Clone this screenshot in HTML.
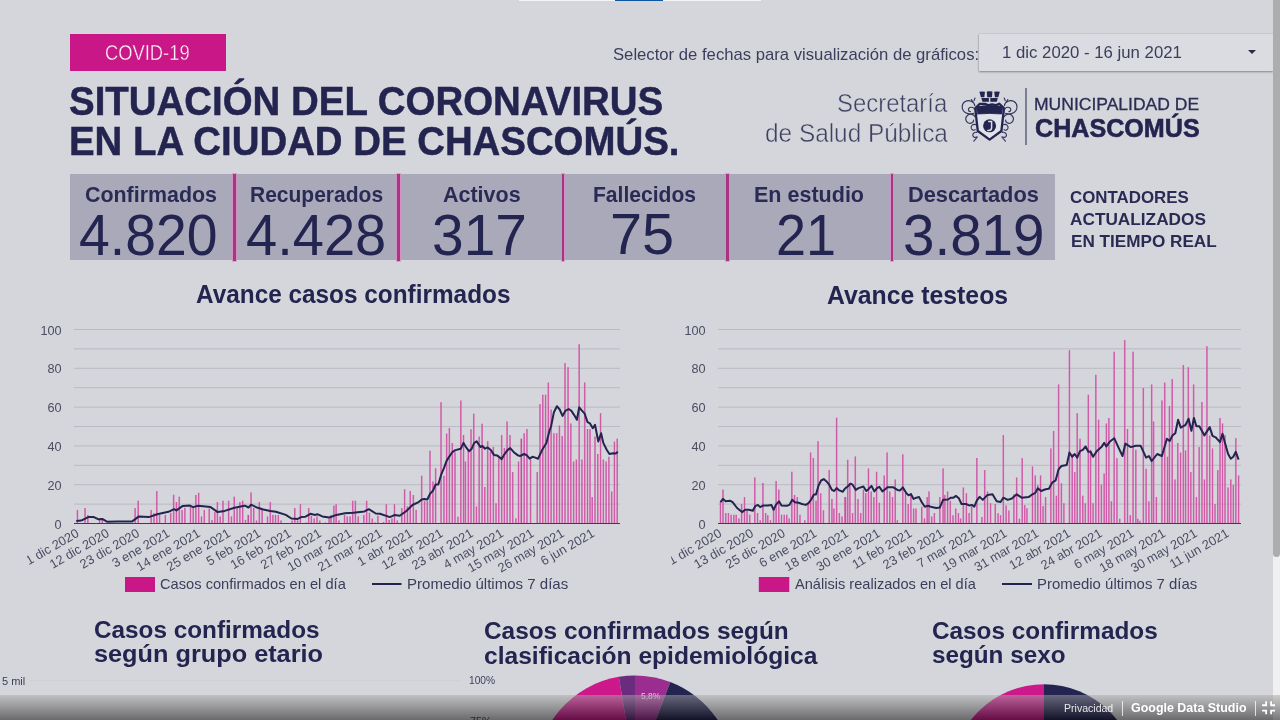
<!DOCTYPE html>
<html lang="es"><head><meta charset="utf-8"><title>Situación del coronavirus en la ciudad de Chascomús</title>
<style>
html,body{margin:0;padding:0;}
body{width:1280px;height:720px;overflow:hidden;background:#d5d6db;position:relative;font-family:"Liberation Sans", sans-serif;}
.t{position:absolute;white-space:nowrap;line-height:1;transform-origin:0 0;}
.abs{position:absolute;}
.sep{position:absolute;top:174px;height:86.5px;width:2.6px;background:#a93484;box-shadow:0 0 0 1px rgba(222,140,196,0.75);}
svg text{font-family:"Liberation Sans", sans-serif;}
</style></head><body>
<div class="abs" style="left:519px;top:0;width:242px;height:1.3px;background:#f4f4f6;"></div>
<div class="abs" style="left:615.3px;top:0;width:47.5px;height:1.4px;background:#0d56a0;"></div>
<div class="abs" style="left:70px;top:34px;width:156px;height:37px;background:#c91788;"></div>
<div class="abs" style="left:978.5px;top:33.5px;width:294.5px;height:37px;background:#dbdce1;box-shadow:0 1px 2px rgba(0,0,0,0.35),0 0 1px rgba(0,0,0,0.25);"></div>
<svg class="abs" style="left:1247px;top:49px" width="10" height="6" viewBox="0 0 10 6"><path d="M1 1h8L5 5z" fill="#2a2b45"/></svg>
<div class="abs" style="left:1025.3px;top:88px;width:1.6px;height:57px;background:#7d7e95;"></div>
<div class="abs" style="left:70px;top:173.6px;width:985.4px;height:86.2px;background:#a9a9b9;"></div>
<div class="sep" style="left:233.0px"></div><div class="sep" style="left:397.4px"></div><div class="sep" style="left:561.7px"></div><div class="sep" style="left:726.1px"></div><div class="sep" style="left:890.5px"></div>
<svg class="abs" style="left:0;top:0" width="1280" height="720" viewBox="0 0 1280 720">
<clipPath id="clip74"><rect x="27.2" y="520" width="620" height="80"/></clipPath>
<line x1="74" x2="620" y1="504.1" y2="504.1" stroke="#b9bac3" stroke-width="1"/>
<line x1="74" x2="620" y1="484.7" y2="484.7" stroke="#b9bac3" stroke-width="1"/>
<line x1="74" x2="620" y1="465.3" y2="465.3" stroke="#b9bac3" stroke-width="1"/>
<line x1="74" x2="620" y1="445.9" y2="445.9" stroke="#b9bac3" stroke-width="1"/>
<line x1="74" x2="620" y1="426.5" y2="426.5" stroke="#b9bac3" stroke-width="1"/>
<line x1="74" x2="620" y1="407.1" y2="407.1" stroke="#b9bac3" stroke-width="1"/>
<line x1="74" x2="620" y1="387.7" y2="387.7" stroke="#b9bac3" stroke-width="1"/>
<line x1="74" x2="620" y1="368.3" y2="368.3" stroke="#b9bac3" stroke-width="1"/>
<line x1="74" x2="620" y1="348.9" y2="348.9" stroke="#b9bac3" stroke-width="1"/>
<line x1="74" x2="620" y1="329.5" y2="329.5" stroke="#b9bac3" stroke-width="1"/>
<path d="M77.45 523.5V509.9M85.05 523.5V508.1M87.86 523.5V514.9M99.53 523.5V519.9M102.34 523.5V519.9M135.11 523.5V508.1M138.20 523.5V500.7M151.14 523.5V509.9M153.95 523.5V513.2M156.77 523.5V491.0M159.58 523.5V514.9M165.35 523.5V514.9M170.69 523.5V512.8M173.64 523.5V494.7M176.45 523.5V502.1M179.27 523.5V496.7M182.08 523.5V509.9M184.89 523.5V507.8M190.52 523.5V506.4M193.19 523.5V507.8M195.86 523.5V495.0M198.67 523.5V492.8M201.49 523.5V516.4M204.30 523.5V509.9M209.22 523.5V508.5M212.03 523.5V519.9M214.85 523.5V512.1M217.38 523.5V502.1M220.19 523.5V516.4M223.00 523.5V500.7M228.63 523.5V500.7M231.44 523.5V516.4M234.25 523.5V496.7M237.07 523.5V507.8M239.88 523.5V502.1M242.69 523.5V500.7M245.50 523.5V519.9M248.23 523.5V514.9M248.32 523.5V514.9M251.05 523.5V492.4M253.72 523.5V507.8M256.53 523.5V520.6M259.34 523.5V502.1M262.16 523.5V509.9M267.50 523.5V516.4M270.31 523.5V502.1M272.84 523.5V514.9M275.52 523.5V514.9M278.33 523.5V514.9M281.00 523.5V520.4M292.11 523.5V520.6M294.78 523.5V508.1M297.59 523.5V520.6M300.41 523.5V504.2M305.89 523.5V522.4M308.70 523.5V508.1M311.38 523.5V515.7M314.19 523.5V518.5M317.00 523.5V516.4M319.81 523.5V520.4M325.44 523.5V522.4M329.10 523.5V518.5M331.06 523.5V514.9M333.88 523.5V505.7M336.13 523.5V504.2M338.94 523.5V520.4M344.56 523.5V514.9M347.24 523.5V516.4M350.05 523.5V516.4M352.72 523.5V500.7M355.39 523.5V500.7M358.20 523.5V516.4M363.83 523.5V514.9M366.64 523.5V500.7M369.46 523.5V512.8M372.27 523.5V518.5M375.08 523.5V522.4M377.89 523.5V515.7M383.52 523.5V522.1M386.33 523.5V504.2M389.14 523.5V519.9M391.96 523.5V518.5M394.49 523.5V504.2M397.30 523.5V520.4M401.80 523.5V508.1M404.61 523.5V489.3M407.42 523.5V506.4M410.24 523.5V491.0M413.33 523.5V495.0M416.14 523.5V509.9M421.67 523.5V475.8M424.58 523.5V501.2M427.29 523.5V501.2M430.00 523.5V450.8M432.92 523.5V481.4M435.62 523.5V468.3M441.04 523.5V402.2M443.96 523.5V475.8M446.67 523.5V433.5M449.38 523.5V427.9M452.29 523.5V442.9M455.00 523.5V452.2M457.92 523.5V516.8M460.83 523.5V400.6M463.54 523.5V434.9M465.42 523.5V461.6M468.33 523.5V450.8M471.04 523.5V429.3M473.75 523.5V413.7M476.46 523.5V506.4M479.17 523.5V436.6M482.08 523.5V423.7M484.79 523.5V487.0M487.71 523.5V441.2M490.42 523.5V452.2M493.33 523.5V447.0M496.04 523.5V503.3M498.75 523.5V458.5M501.67 523.5V434.9M504.38 523.5V448.1M507.08 523.5V421.6M510.00 523.5V434.9M512.71 523.5V472.0M515.83 523.5V518.3M518.54 523.5V461.6M521.25 523.5V438.7M521.39 523.5V438.7M524.17 523.5V433.2M526.94 523.5V429.0M530.56 523.5V459.6M537.22 523.5V472.1M540.00 523.5V404.0M542.78 523.5V394.8M545.56 523.5V394.8M548.33 523.5V382.6M551.11 523.5V409.5M553.89 523.5V433.2M556.67 523.5V433.2M559.44 523.5V425.4M562.22 523.5V435.9M565.00 523.5V363.1M568.06 523.5V367.3M570.83 523.5V423.4M573.61 523.5V461.5M576.39 523.5V459.6M579.17 523.5V344.2M581.94 523.5V459.6M584.72 523.5V382.6M587.50 523.5V429.0M590.00 523.5V429.0M592.22 523.5V497.1M595.00 523.5V436.5M597.78 523.5V454.0M600.56 523.5V413.2M603.33 523.5V459.6M606.11 523.5V461.5M608.89 523.5V456.8M611.67 523.5V491.5M614.44 523.5V441.5M617.22 523.5V438.7" stroke="#e06fbd" stroke-opacity="0.95" stroke-width="1.55" fill="none"/>
<path d="M77.45 523.5V509.9M85.05 523.5V508.1M87.86 523.5V514.9M99.53 523.5V519.9M102.34 523.5V519.9M135.11 523.5V508.1M138.20 523.5V500.7M151.14 523.5V509.9M153.95 523.5V513.2M156.77 523.5V491.0M159.58 523.5V514.9M165.35 523.5V514.9M170.69 523.5V512.8M173.64 523.5V494.7M176.45 523.5V502.1M179.27 523.5V496.7M182.08 523.5V509.9M184.89 523.5V507.8M190.52 523.5V506.4M193.19 523.5V507.8M195.86 523.5V495.0M198.67 523.5V492.8M201.49 523.5V516.4M204.30 523.5V509.9M209.22 523.5V508.5M212.03 523.5V519.9M214.85 523.5V512.1M217.38 523.5V502.1M220.19 523.5V516.4M223.00 523.5V500.7M228.63 523.5V500.7M231.44 523.5V516.4M234.25 523.5V496.7M237.07 523.5V507.8M239.88 523.5V502.1M242.69 523.5V500.7M245.50 523.5V519.9M248.23 523.5V514.9M248.32 523.5V514.9M251.05 523.5V492.4M253.72 523.5V507.8M256.53 523.5V520.6M259.34 523.5V502.1M262.16 523.5V509.9M267.50 523.5V516.4M270.31 523.5V502.1M272.84 523.5V514.9M275.52 523.5V514.9M278.33 523.5V514.9M281.00 523.5V520.4M292.11 523.5V520.6M294.78 523.5V508.1M297.59 523.5V520.6M300.41 523.5V504.2M305.89 523.5V522.4M308.70 523.5V508.1M311.38 523.5V515.7M314.19 523.5V518.5M317.00 523.5V516.4M319.81 523.5V520.4M325.44 523.5V522.4M329.10 523.5V518.5M331.06 523.5V514.9M333.88 523.5V505.7M336.13 523.5V504.2M338.94 523.5V520.4M344.56 523.5V514.9M347.24 523.5V516.4M350.05 523.5V516.4M352.72 523.5V500.7M355.39 523.5V500.7M358.20 523.5V516.4M363.83 523.5V514.9M366.64 523.5V500.7M369.46 523.5V512.8M372.27 523.5V518.5M375.08 523.5V522.4M377.89 523.5V515.7M383.52 523.5V522.1M386.33 523.5V504.2M389.14 523.5V519.9M391.96 523.5V518.5M394.49 523.5V504.2M397.30 523.5V520.4M401.80 523.5V508.1M404.61 523.5V489.3M407.42 523.5V506.4M410.24 523.5V491.0M413.33 523.5V495.0M416.14 523.5V509.9M421.67 523.5V475.8M424.58 523.5V501.2M427.29 523.5V501.2M430.00 523.5V450.8M432.92 523.5V481.4M435.62 523.5V468.3M441.04 523.5V402.2M443.96 523.5V475.8M446.67 523.5V433.5M449.38 523.5V427.9M452.29 523.5V442.9M455.00 523.5V452.2M457.92 523.5V516.8M460.83 523.5V400.6M463.54 523.5V434.9M465.42 523.5V461.6M468.33 523.5V450.8M471.04 523.5V429.3M473.75 523.5V413.7M476.46 523.5V506.4M479.17 523.5V436.6M482.08 523.5V423.7M484.79 523.5V487.0M487.71 523.5V441.2M490.42 523.5V452.2M493.33 523.5V447.0M496.04 523.5V503.3M498.75 523.5V458.5M501.67 523.5V434.9M504.38 523.5V448.1M507.08 523.5V421.6M510.00 523.5V434.9M512.71 523.5V472.0M515.83 523.5V518.3M518.54 523.5V461.6M521.25 523.5V438.7M521.39 523.5V438.7M524.17 523.5V433.2M526.94 523.5V429.0M530.56 523.5V459.6M537.22 523.5V472.1M540.00 523.5V404.0M542.78 523.5V394.8M545.56 523.5V394.8M548.33 523.5V382.6M551.11 523.5V409.5M553.89 523.5V433.2M556.67 523.5V433.2M559.44 523.5V425.4M562.22 523.5V435.9M565.00 523.5V363.1M568.06 523.5V367.3M570.83 523.5V423.4M573.61 523.5V461.5M576.39 523.5V459.6M579.17 523.5V344.2M581.94 523.5V459.6M584.72 523.5V382.6M587.50 523.5V429.0M590.00 523.5V429.0M592.22 523.5V497.1M595.00 523.5V436.5M597.78 523.5V454.0M600.56 523.5V413.2M603.33 523.5V459.6M606.11 523.5V461.5M608.89 523.5V456.8M611.67 523.5V491.5M614.44 523.5V441.5M617.22 523.5V438.7" stroke="#a82e78" stroke-opacity="0.7" stroke-width="0.55" fill="none"/>
<line x1="74" x2="620" y1="523.5" y2="523.5" stroke="#3a3b5c" stroke-width="1.2"/>
<polyline points="76.3,520.9 81.2,520.6 88.3,517.1 93.9,517.1 98.1,519.2 102.3,518.9 107.3,521.8 117.8,521.4 131.9,521.6 138.9,516.4 148.8,517.1 157.2,514.2 168.4,511.8 174.1,509.2 176.4,510.4 182.5,506.1 189.5,505.4 193.1,507.1 198.0,505.7 210.6,507.1 217.7,512.1 224.7,510.9 234.5,507.8 244.4,505.7 245.0,505.7 248.5,507.5 251.1,504.7 257.7,507.8 263.3,509.5 270.3,510.9 275.9,511.8 285.8,514.9 291.4,518.5 297.7,518.9 301.2,517.1 305.5,516.7 310.4,513.8 315.3,514.9 317.4,514.2 322.3,516.4 329.4,517.5 336.4,514.9 344.9,513.2 353.3,512.8 364.5,511.4 368.8,509.2 375.8,513.5 380.0,513.8 389.9,517.1 394.8,514.9 399.7,515.7 406.7,510.7 412.4,505.0 418.7,502.1 421.7,499.5 424.2,499.1 427.3,499.5 430.0,493.9 432.9,490.8 435.6,484.5 438.3,484.5 441.0,475.2 444.0,467.9 446.7,460.6 449.4,456.4 452.3,452.2 455.4,450.1 460.8,448.7 463.5,442.9 466.2,447.4 469.0,451.2 471.7,448.7 474.2,442.9 476.7,441.4 480.4,447.0 482.5,446.0 485.0,448.7 487.7,447.4 490.8,450.1 494.0,454.9 497.1,455.4 501.7,459.1 504.4,454.3 507.5,450.1 510.2,448.1 513.8,452.2 517.9,455.4 520.0,456.0 524.2,454.0 526.9,455.4 529.7,458.7 532.5,456.8 535.3,457.6 538.1,458.7 542.2,449.8 546.4,442.9 549.2,431.8 551.1,426.2 553.9,412.3 556.9,406.2 559.7,409.5 562.5,415.9 565.3,410.9 568.6,409.0 571.4,410.9 574.2,415.1 576.9,419.8 579.2,407.3 581.7,410.4 584.7,413.7 587.5,422.1 590.0,423.4 592.8,428.2 595.0,424.8 598.3,441.5 601.1,433.2 603.3,442.9 606.7,449.8 609.4,454.0 613.1,453.2 615.8,453.5 617.8,451.8" stroke="#23244f" stroke-width="2" fill="none" stroke-linejoin="round"/>
<text x="61.6" y="528.5" text-anchor="end" font-size="12.7" fill="#4a4c63">0</text>
<text x="61.6" y="489.7" text-anchor="end" font-size="12.7" fill="#4a4c63">20</text>
<text x="61.6" y="450.9" text-anchor="end" font-size="12.7" fill="#4a4c63">40</text>
<text x="61.6" y="412.1" text-anchor="end" font-size="12.7" fill="#4a4c63">60</text>
<text x="61.6" y="373.3" text-anchor="end" font-size="12.7" fill="#4a4c63">80</text>
<text x="61.6" y="334.5" text-anchor="end" font-size="12.7" fill="#4a4c63">100</text>
<g clip-path="url(#clip74)">
<text transform="translate(79.8 535.8) rotate(-30)" text-anchor="end" font-size="12.8" fill="#4a4c63">1 dic 2020</text>
<text transform="translate(110.1 535.8) rotate(-30)" text-anchor="end" font-size="12.8" fill="#4a4c63">12 dic 2020</text>
<text transform="translate(140.4 535.8) rotate(-30)" text-anchor="end" font-size="12.8" fill="#4a4c63">23 dic 2020</text>
<text transform="translate(170.8 535.8) rotate(-30)" text-anchor="end" font-size="12.8" fill="#4a4c63">3 ene 2021</text>
<text transform="translate(201.1 535.8) rotate(-30)" text-anchor="end" font-size="12.8" fill="#4a4c63">14 ene 2021</text>
<text transform="translate(231.4 535.8) rotate(-30)" text-anchor="end" font-size="12.8" fill="#4a4c63">25 ene 2021</text>
<text transform="translate(261.8 535.8) rotate(-30)" text-anchor="end" font-size="12.8" fill="#4a4c63">5 feb 2021</text>
<text transform="translate(292.1 535.8) rotate(-30)" text-anchor="end" font-size="12.8" fill="#4a4c63">16 feb 2021</text>
<text transform="translate(322.4 535.8) rotate(-30)" text-anchor="end" font-size="12.8" fill="#4a4c63">27 feb 2021</text>
<text transform="translate(352.8 535.8) rotate(-30)" text-anchor="end" font-size="12.8" fill="#4a4c63">10 mar 2021</text>
<text transform="translate(383.1 535.8) rotate(-30)" text-anchor="end" font-size="12.8" fill="#4a4c63">21 mar 2021</text>
<text transform="translate(413.4 535.8) rotate(-30)" text-anchor="end" font-size="12.8" fill="#4a4c63">1 abr 2021</text>
<text transform="translate(443.8 535.8) rotate(-30)" text-anchor="end" font-size="12.8" fill="#4a4c63">12 abr 2021</text>
<text transform="translate(474.1 535.8) rotate(-30)" text-anchor="end" font-size="12.8" fill="#4a4c63">23 abr 2021</text>
<text transform="translate(504.4 535.8) rotate(-30)" text-anchor="end" font-size="12.8" fill="#4a4c63">4 may 2021</text>
<text transform="translate(534.8 535.8) rotate(-30)" text-anchor="end" font-size="12.8" fill="#4a4c63">15 may 2021</text>
<text transform="translate(565.1 535.8) rotate(-30)" text-anchor="end" font-size="12.8" fill="#4a4c63">26 may 2021</text>
<text transform="translate(595.4 535.8) rotate(-30)" text-anchor="end" font-size="12.8" fill="#4a4c63">6 jun 2021</text>
</g>
<clipPath id="clip718"><rect x="671.2" y="520" width="620" height="80"/></clipPath>
<line x1="718" x2="1241" y1="504.1" y2="504.1" stroke="#b9bac3" stroke-width="1"/>
<line x1="718" x2="1241" y1="484.7" y2="484.7" stroke="#b9bac3" stroke-width="1"/>
<line x1="718" x2="1241" y1="465.3" y2="465.3" stroke="#b9bac3" stroke-width="1"/>
<line x1="718" x2="1241" y1="445.9" y2="445.9" stroke="#b9bac3" stroke-width="1"/>
<line x1="718" x2="1241" y1="426.5" y2="426.5" stroke="#b9bac3" stroke-width="1"/>
<line x1="718" x2="1241" y1="407.1" y2="407.1" stroke="#b9bac3" stroke-width="1"/>
<line x1="718" x2="1241" y1="387.7" y2="387.7" stroke="#b9bac3" stroke-width="1"/>
<line x1="718" x2="1241" y1="368.3" y2="368.3" stroke="#b9bac3" stroke-width="1"/>
<line x1="718" x2="1241" y1="348.9" y2="348.9" stroke="#b9bac3" stroke-width="1"/>
<line x1="718" x2="1241" y1="329.5" y2="329.5" stroke="#b9bac3" stroke-width="1"/>
<path d="M720.48 523.5V501.3M723.01 523.5V489.6M725.72 523.5V513.0M728.42 523.5V513.0M731.13 523.5V514.8M733.84 523.5V514.8M736.19 523.5V514.8M738.90 523.5V518.4M741.61 523.5V504.0M744.50 523.5V497.1M747.03 523.5V510.7M749.74 523.5V514.8M754.80 523.5V477.4M757.51 523.5V513.0M760.22 523.5V520.2M762.93 523.5V482.9M765.64 523.5V513.0M767.80 523.5V515.2M770.51 523.5V520.2M773.58 523.5V508.5M776.11 523.5V480.9M778.82 523.5V489.6M781.53 523.5V514.8M784.24 523.5V514.8M786.77 523.5V514.8M789.12 523.5V518.4M791.83 523.5V471.8M794.54 523.5V495.0M797.25 523.5V497.1M799.96 523.5V514.8M804.83 523.5V520.2M808.09 523.5V504.0M810.61 523.5V452.5M813.32 523.5V457.9M816.03 523.5V500.7M818.02 523.5V441.3M820.73 523.5V493.2M823.44 523.5V510.3M829.22 523.5V470.0M831.93 523.5V498.9M833.92 523.5V508.5M836.63 523.5V417.7M839.34 523.5V513.0M842.04 523.5V516.6M844.93 523.5V497.1M845.54 523.5V497.1M847.71 523.5V459.7M849.88 523.5V483.2M852.59 523.5V513.0M855.30 523.5V456.5M858.01 523.5V498.9M860.72 523.5V513.0M863.42 523.5V489.6M865.77 523.5V493.2M868.48 523.5V468.4M871.19 523.5V491.4M873.90 523.5V497.1M876.61 523.5V471.8M879.32 523.5V502.7M884.20 523.5V475.4M887.09 523.5V452.5M889.80 523.5V491.4M892.51 523.5V497.1M895.22 523.5V479.6M897.38 523.5V520.2M902.80 523.5V454.3M905.51 523.5V493.2M908.22 523.5V504.0M910.93 523.5V493.2M913.64 523.5V508.5M915.99 523.5V508.5M921.77 523.5V506.7M924.48 523.5V518.4M927.19 523.5V497.1M929.00 523.5V491.4M931.71 523.5V516.6M934.41 523.5V513.0M939.83 523.5V497.1M943.09 523.5V468.4M944.89 523.5V495.0M947.60 523.5V491.4M950.31 523.5V500.7M953.02 523.5V515.2M955.73 523.5V508.5M958.44 523.5V513.0M960.61 523.5V518.4M963.32 523.5V487.4M966.39 523.5V493.2M969.10 523.5V513.0M971.63 523.5V506.7M976.86 523.5V457.9M981.94 523.5V517.1M984.72 523.5V470.1M987.50 523.5V491.5M990.56 523.5V503.2M995.28 523.5V504.0M998.06 523.5V513.2M1000.56 523.5V515.2M1003.33 523.5V435.1M1006.11 523.5V505.4M1008.89 523.5V510.4M1013.89 523.5V494.3M1016.67 523.5V477.6M1019.44 523.5V518.8M1022.22 523.5V458.2M1024.72 523.5V504.9M1026.94 523.5V508.2M1032.50 523.5V466.5M1035.28 523.5V475.4M1037.78 523.5V485.1M1040.56 523.5V475.4M1043.06 523.5V506.0M1045.56 523.5V497.1M1050.83 523.5V448.5M1053.61 523.5V430.9M1056.39 523.5V495.7M1058.61 523.5V384.5M1061.39 523.5V483.2M1063.89 523.5V503.2M1069.44 523.5V350.3M1072.22 523.5V454.0M1074.72 523.5V472.1M1077.22 523.5V413.2M1080.00 523.5V438.7M1082.78 523.5V495.7M1085.28 523.5V503.2M1088.33 523.5V394.8M1090.56 523.5V449.8M1093.06 523.5V503.2M1095.83 523.5V374.8M1098.61 523.5V419.8M1101.39 523.5V484.6M1104.17 523.5V473.5M1106.39 523.5V423.4M1108.89 523.5V417.9M1111.39 523.5V501.3M1114.17 523.5V351.7M1116.94 523.5V458.2M1119.72 523.5V518.8M1124.72 523.5V340.1M1127.50 523.5V429.0M1130.28 523.5V515.2M1133.06 523.5V351.7M1135.83 523.5V449.8M1137.78 523.5V518.8M1140.00 523.5V520.7M1143.33 523.5V388.1M1146.11 523.5V468.8M1148.89 523.5V501.3M1151.67 523.5V384.5M1153.61 523.5V421.5M1156.39 523.5V497.1M1161.94 523.5V400.4M1164.72 523.5V382.6M1167.50 523.5V456.8M1169.44 523.5V405.9M1172.22 523.5V379.0M1175.00 523.5V479.6M1177.78 523.5V442.9M1180.56 523.5V452.6M1183.33 523.5V365.1M1185.56 523.5V450.4M1188.33 523.5V367.3M1190.83 523.5V472.1M1193.61 523.5V384.5M1196.39 523.5V497.1M1199.17 523.5V447.1M1201.94 523.5V402.0M1204.44 523.5V479.6M1206.94 523.5V346.2M1209.72 523.5V435.4M1212.50 523.5V448.5M1215.00 523.5V504.0M1217.78 523.5V470.1M1220.00 523.5V417.9M1222.50 523.5V423.4M1225.00 523.5V435.1M1228.06 523.5V487.4M1230.83 523.5V479.6M1233.33 523.5V485.1M1235.83 523.5V438.2M1238.61 523.5V475.4" stroke="#e06fbd" stroke-opacity="0.95" stroke-width="1.55" fill="none"/>
<path d="M720.48 523.5V501.3M723.01 523.5V489.6M725.72 523.5V513.0M728.42 523.5V513.0M731.13 523.5V514.8M733.84 523.5V514.8M736.19 523.5V514.8M738.90 523.5V518.4M741.61 523.5V504.0M744.50 523.5V497.1M747.03 523.5V510.7M749.74 523.5V514.8M754.80 523.5V477.4M757.51 523.5V513.0M760.22 523.5V520.2M762.93 523.5V482.9M765.64 523.5V513.0M767.80 523.5V515.2M770.51 523.5V520.2M773.58 523.5V508.5M776.11 523.5V480.9M778.82 523.5V489.6M781.53 523.5V514.8M784.24 523.5V514.8M786.77 523.5V514.8M789.12 523.5V518.4M791.83 523.5V471.8M794.54 523.5V495.0M797.25 523.5V497.1M799.96 523.5V514.8M804.83 523.5V520.2M808.09 523.5V504.0M810.61 523.5V452.5M813.32 523.5V457.9M816.03 523.5V500.7M818.02 523.5V441.3M820.73 523.5V493.2M823.44 523.5V510.3M829.22 523.5V470.0M831.93 523.5V498.9M833.92 523.5V508.5M836.63 523.5V417.7M839.34 523.5V513.0M842.04 523.5V516.6M844.93 523.5V497.1M845.54 523.5V497.1M847.71 523.5V459.7M849.88 523.5V483.2M852.59 523.5V513.0M855.30 523.5V456.5M858.01 523.5V498.9M860.72 523.5V513.0M863.42 523.5V489.6M865.77 523.5V493.2M868.48 523.5V468.4M871.19 523.5V491.4M873.90 523.5V497.1M876.61 523.5V471.8M879.32 523.5V502.7M884.20 523.5V475.4M887.09 523.5V452.5M889.80 523.5V491.4M892.51 523.5V497.1M895.22 523.5V479.6M897.38 523.5V520.2M902.80 523.5V454.3M905.51 523.5V493.2M908.22 523.5V504.0M910.93 523.5V493.2M913.64 523.5V508.5M915.99 523.5V508.5M921.77 523.5V506.7M924.48 523.5V518.4M927.19 523.5V497.1M929.00 523.5V491.4M931.71 523.5V516.6M934.41 523.5V513.0M939.83 523.5V497.1M943.09 523.5V468.4M944.89 523.5V495.0M947.60 523.5V491.4M950.31 523.5V500.7M953.02 523.5V515.2M955.73 523.5V508.5M958.44 523.5V513.0M960.61 523.5V518.4M963.32 523.5V487.4M966.39 523.5V493.2M969.10 523.5V513.0M971.63 523.5V506.7M976.86 523.5V457.9M981.94 523.5V517.1M984.72 523.5V470.1M987.50 523.5V491.5M990.56 523.5V503.2M995.28 523.5V504.0M998.06 523.5V513.2M1000.56 523.5V515.2M1003.33 523.5V435.1M1006.11 523.5V505.4M1008.89 523.5V510.4M1013.89 523.5V494.3M1016.67 523.5V477.6M1019.44 523.5V518.8M1022.22 523.5V458.2M1024.72 523.5V504.9M1026.94 523.5V508.2M1032.50 523.5V466.5M1035.28 523.5V475.4M1037.78 523.5V485.1M1040.56 523.5V475.4M1043.06 523.5V506.0M1045.56 523.5V497.1M1050.83 523.5V448.5M1053.61 523.5V430.9M1056.39 523.5V495.7M1058.61 523.5V384.5M1061.39 523.5V483.2M1063.89 523.5V503.2M1069.44 523.5V350.3M1072.22 523.5V454.0M1074.72 523.5V472.1M1077.22 523.5V413.2M1080.00 523.5V438.7M1082.78 523.5V495.7M1085.28 523.5V503.2M1088.33 523.5V394.8M1090.56 523.5V449.8M1093.06 523.5V503.2M1095.83 523.5V374.8M1098.61 523.5V419.8M1101.39 523.5V484.6M1104.17 523.5V473.5M1106.39 523.5V423.4M1108.89 523.5V417.9M1111.39 523.5V501.3M1114.17 523.5V351.7M1116.94 523.5V458.2M1119.72 523.5V518.8M1124.72 523.5V340.1M1127.50 523.5V429.0M1130.28 523.5V515.2M1133.06 523.5V351.7M1135.83 523.5V449.8M1137.78 523.5V518.8M1140.00 523.5V520.7M1143.33 523.5V388.1M1146.11 523.5V468.8M1148.89 523.5V501.3M1151.67 523.5V384.5M1153.61 523.5V421.5M1156.39 523.5V497.1M1161.94 523.5V400.4M1164.72 523.5V382.6M1167.50 523.5V456.8M1169.44 523.5V405.9M1172.22 523.5V379.0M1175.00 523.5V479.6M1177.78 523.5V442.9M1180.56 523.5V452.6M1183.33 523.5V365.1M1185.56 523.5V450.4M1188.33 523.5V367.3M1190.83 523.5V472.1M1193.61 523.5V384.5M1196.39 523.5V497.1M1199.17 523.5V447.1M1201.94 523.5V402.0M1204.44 523.5V479.6M1206.94 523.5V346.2M1209.72 523.5V435.4M1212.50 523.5V448.5M1215.00 523.5V504.0M1217.78 523.5V470.1M1220.00 523.5V417.9M1222.50 523.5V423.4M1225.00 523.5V435.1M1228.06 523.5V487.4M1230.83 523.5V479.6M1233.33 523.5V485.1M1235.83 523.5V438.2M1238.61 523.5V475.4" stroke="#a82e78" stroke-opacity="0.7" stroke-width="0.55" fill="none"/>
<line x1="718" x2="1241" y1="523.5" y2="523.5" stroke="#3a3b5c" stroke-width="1.2"/>
<polyline points="720.5,502.2 723.0,498.9 725.7,501.3 729.9,500.7 732.6,502.2 737.1,508.0 742.1,512.1 745.2,509.8 748.8,509.8 752.8,510.7 755.2,506.2 757.9,504.9 760.2,507.1 763.3,505.4 767.8,505.4 771.4,504.9 773.6,509.8 775.9,504.9 779.0,501.3 781.5,505.4 786.8,505.8 789.5,504.9 792.2,499.8 794.9,502.2 798.5,502.7 802.1,504.0 805.7,504.9 808.5,503.1 811.2,499.5 813.9,494.6 816.0,494.6 818.4,485.9 821.1,480.5 823.8,479.1 826.5,481.4 829.2,484.7 831.9,489.9 834.3,491.0 836.6,488.1 839.3,490.4 842.8,491.7 845.0,488.6 845.5,488.1 847.7,486.5 850.4,483.6 852.6,484.7 855.8,489.9 858.5,488.1 863.4,486.5 866.3,491.0 868.5,489.2 871.5,485.9 874.3,491.4 877.0,488.1 879.3,486.8 882.4,491.4 887.5,487.2 892.9,487.2 897.4,489.9 900.1,490.4 902.8,487.4 906.4,493.2 908.6,495.3 910.9,494.1 913.6,498.9 916.4,497.7 919.1,497.1 921.8,502.2 924.8,506.7 928.1,505.8 931.7,507.1 936.2,508.0 939.8,507.6 943.1,499.8 948.0,499.5 951.0,497.7 953.4,497.7 956.1,495.9 958.8,498.2 961.5,504.0 966.0,504.0 969.1,505.4 972.0,504.9 974.3,506.7 976.9,500.4 979.6,496.8 980.0,497.1 982.8,499.9 987.5,494.9 992.5,494.3 996.7,501.3 1000.6,502.1 1003.3,497.7 1007.8,499.9 1011.9,498.5 1016.7,494.3 1021.7,497.7 1028.6,497.1 1032.5,494.3 1035.3,492.9 1037.8,488.2 1041.1,491.0 1045.6,489.3 1048.9,488.8 1052.2,482.6 1055.6,480.4 1058.6,469.3 1061.4,466.0 1066.7,465.1 1069.4,452.6 1072.2,456.8 1074.7,454.0 1077.2,457.6 1080.0,451.2 1082.8,449.8 1085.6,446.5 1088.3,451.8 1090.6,451.8 1093.1,456.8 1096.7,451.2 1101.4,447.1 1104.2,442.9 1106.4,446.5 1108.9,442.9 1110.0,441.5 1114.2,438.2 1118.3,447.1 1122.5,456.0 1125.3,443.7 1130.8,447.1 1135.8,445.7 1140.6,445.7 1146.1,457.6 1148.9,456.0 1151.7,461.0 1157.2,454.0 1161.9,456.0 1166.9,438.7 1169.7,441.0 1172.5,435.4 1175.3,433.2 1178.1,419.8 1180.8,427.6 1185.6,424.8 1188.6,418.7 1191.4,430.9 1193.9,417.9 1196.4,426.2 1199.4,426.2 1204.4,435.4 1209.7,427.1 1212.5,435.9 1215.6,437.3 1220.0,442.1 1222.5,433.7 1225.0,442.9 1228.1,454.0 1230.8,458.7 1233.3,456.8 1235.8,451.8 1238.6,459.6" stroke="#23244f" stroke-width="2" fill="none" stroke-linejoin="round"/>
<text x="705.6" y="528.5" text-anchor="end" font-size="12.7" fill="#4a4c63">0</text>
<text x="705.6" y="489.7" text-anchor="end" font-size="12.7" fill="#4a4c63">20</text>
<text x="705.6" y="450.9" text-anchor="end" font-size="12.7" fill="#4a4c63">40</text>
<text x="705.6" y="412.1" text-anchor="end" font-size="12.7" fill="#4a4c63">60</text>
<text x="705.6" y="373.3" text-anchor="end" font-size="12.7" fill="#4a4c63">80</text>
<text x="705.6" y="334.5" text-anchor="end" font-size="12.7" fill="#4a4c63">100</text>
<g clip-path="url(#clip718)">
<text transform="translate(722.7 535.8) rotate(-30)" text-anchor="end" font-size="12.8" fill="#4a4c63">1 dic 2020</text>
<text transform="translate(754.4 535.8) rotate(-30)" text-anchor="end" font-size="12.8" fill="#4a4c63">13 dic 2020</text>
<text transform="translate(786.1 535.8) rotate(-30)" text-anchor="end" font-size="12.8" fill="#4a4c63">25 dic 2020</text>
<text transform="translate(817.8 535.8) rotate(-30)" text-anchor="end" font-size="12.8" fill="#4a4c63">6 ene 2021</text>
<text transform="translate(849.5 535.8) rotate(-30)" text-anchor="end" font-size="12.8" fill="#4a4c63">18 ene 2021</text>
<text transform="translate(881.2 535.8) rotate(-30)" text-anchor="end" font-size="12.8" fill="#4a4c63">30 ene 2021</text>
<text transform="translate(912.9 535.8) rotate(-30)" text-anchor="end" font-size="12.8" fill="#4a4c63">11 feb 2021</text>
<text transform="translate(944.6 535.8) rotate(-30)" text-anchor="end" font-size="12.8" fill="#4a4c63">23 feb 2021</text>
<text transform="translate(976.3 535.8) rotate(-30)" text-anchor="end" font-size="12.8" fill="#4a4c63">7 mar 2021</text>
<text transform="translate(1008.0 535.8) rotate(-30)" text-anchor="end" font-size="12.8" fill="#4a4c63">19 mar 2021</text>
<text transform="translate(1039.7 535.8) rotate(-30)" text-anchor="end" font-size="12.8" fill="#4a4c63">31 mar 2021</text>
<text transform="translate(1071.4 535.8) rotate(-30)" text-anchor="end" font-size="12.8" fill="#4a4c63">12 abr 2021</text>
<text transform="translate(1103.1 535.8) rotate(-30)" text-anchor="end" font-size="12.8" fill="#4a4c63">24 abr 2021</text>
<text transform="translate(1134.8 535.8) rotate(-30)" text-anchor="end" font-size="12.8" fill="#4a4c63">6 may 2021</text>
<text transform="translate(1166.5 535.8) rotate(-30)" text-anchor="end" font-size="12.8" fill="#4a4c63">18 may 2021</text>
<text transform="translate(1198.2 535.8) rotate(-30)" text-anchor="end" font-size="12.8" fill="#4a4c63">30 may 2021</text>
<text transform="translate(1229.9 535.8) rotate(-30)" text-anchor="end" font-size="12.8" fill="#4a4c63">11 jun 2021</text>
</g>
<rect x="125" y="577" width="30" height="15" fill="#c91788"/>
<rect x="758.8" y="577" width="30.5" height="15" fill="#c91788"/>
<line x1="372" x2="401.5" y1="584" y2="584" stroke="#23244f" stroke-width="2"/>
<line x1="1002" x2="1032" y1="584" y2="584" stroke="#23244f" stroke-width="2"/>
<line x1="30" x2="460" y1="680.5" y2="680.5" stroke="#cfd0d6" stroke-width="1"/>
<path d="M635 774.5L536.00 774.50A99 99 0 0 1 618.83 676.83Z" fill="#cc188a"/><path d="M635 774.5L618.83 676.83A99 99 0 0 1 635.00 675.50Z" fill="#6a2c7f"/><path d="M635 774.5L635.00 675.50A99 99 0 0 1 670.32 682.01Z" fill="#9a2d8f"/><path d="M635 774.5L670.32 682.01A99 99 0 0 1 734.00 774.50Z" fill="#23244f"/><path d="M1044 776.6L951.60 776.60A92.4 92.4 0 0 1 1044.00 684.20Z" fill="#cc188a"/><path d="M1044 776.6L1044.00 684.20A92.4 92.4 0 0 1 1136.40 776.60Z" fill="#23244f"/>
<g id="crest" fill="none" stroke="#2a2b58" stroke-linecap="round">
<!-- crown -->
<g fill="#23244f" stroke="none">
<path d="M979.4 91.800q2.800-0.800 5.600 0l-0.700 5.400h-3.400z"/>
<path d="M986.800 91.500q2.800-0.700 5.600 0l-0.400 5.700h-4.800z"/>
<path d="M994.200 91.800q2.800-0.800 5.600 0l-1.500 5.400h-3.400z"/>
<path d="M981.400 97.900h7.500v3.900h-6.500z"/>
<path d="M990.300 97.900h7.500l-1 3.900h-6.500z"/>
</g>
<!-- shield -->
<path d="M979.8 103.8l-4.6 4.6 2.6 22.6 11.8 8.6 11.8-8.6 2.6-22.6-4.6-4.6q-2.4 1.6-4.8 1.2-2.6-1.2-5 0-2.4 0.4-4.8-1.2z" fill="#e1e2ea" stroke="#23244f" stroke-width="2.3" stroke-linejoin="round"/>
<path d="M976.600 106.600q13-2.400 26 0l-0.800 7.400q-12.200-1.200-24.400 0z" fill="#23244f" stroke="#23244f" stroke-width="0.8"/>
<circle cx="989.6" cy="125.8" r="6.5" fill="#23244f" stroke="none"/>
<path d="M988.2 121.6h3.4v6.2q0 2.8-3.2 2.8h-1.2" stroke="#dcdde6" stroke-width="1.5" fill="none" stroke-linecap="butt"/>
<!-- scrolls left -->
<g stroke-width="1.15" stroke="#34355f">
<path d="M973.6 113.4c-6 2-11.400-1.400-11.400-6.600 0-5 5-7.400 9-5.600 2 0.800 3.400 2.600 3.600 4.400"/>
<path d="M974.600 109.400c-1.200-2.400-4.200-2.800-5.600-1.200-1.200 1.400-0.400 3.400 1.400 3.400"/>
<path d="M975 116.600c-1-1.800-4.600-3.600-7.400-1.400-2.800 2.200-2.400 6.400 0.800 7.800 2.800 1.200 5.400-0.600 5.200-3"/>
<path d="M975.600 124.600c-2.600-1-5 1.200-4.400 3.600 0.600 2 2.800 2.600 4 1.400"/>
<path d="M976.800 132.400c-2.200-0.600-4.400 1-4 3.200 0.400 1.800 2.600 2.400 3.800 1.200"/>
<path d="M977.400 137l-3.600 4.200M971.400 99.600l1.600 2.600M975 98l-1 2.600"/>
<!-- scrolls right (mirror about x=989.6) -->
<g transform="translate(1979.2 0) scale(-1 1)">
<path d="M973.6 113.4c-6 2-11.400-1.400-11.400-6.600 0-5 5-7.400 9-5.600 2 0.800 3.400 2.600 3.600 4.400"/>
<path d="M974.600 109.400c-1.200-2.400-4.200-2.800-5.600-1.200-1.200 1.400-0.400 3.400 1.400 3.400"/>
<path d="M975 116.600c-1-1.800-4.600-3.600-7.400-1.400-2.800 2.200-2.400 6.400 0.800 7.800 2.800 1.200 5.400-0.600 5.200-3"/>
<path d="M975.600 124.600c-2.600-1-5 1.200-4.400 3.600 0.600 2 2.800 2.600 4 1.400"/>
<path d="M976.800 132.400c-2.200-0.600-4.400 1-4 3.200 0.400 1.800 2.600 2.400 3.800 1.200"/>
<path d="M977.400 137l-3.600 4.200M971.400 99.600l1.600 2.600M975 98l-1 2.600"/>
</g>
</g>
</g>

</svg>
<div id="covid" class="t" style="left:104.98px;top:41.55px;font-size:21.8px;font-weight:400;color:#ffffff;transform:scaleX(0.8419);-webkit-text-stroke:0.45px #c91788;">COVID-19</div>
<div id="h1a" class="t" style="left:68.80px;top:79.84px;font-size:41.5px;font-weight:700;color:#23244f;transform:scaleX(0.9259);-webkit-text-stroke:0.5px #23244f;">SITUACIÓN DEL CORONAVIRUS</div>
<div id="h1b" class="t" style="left:68.79px;top:120.24px;font-size:41.5px;font-weight:700;color:#23244f;transform:scaleX(0.9246);-webkit-text-stroke:0.5px #23244f;">EN LA CIUDAD DE CHASCOMÚS.</div>
<div id="sel" class="t" style="left:612.99px;top:46.03px;font-size:16.4px;font-weight:400;color:#3b3e5c;transform:scaleX(1.0173);">Selector de fechas para visualización de gráficos:</div>
<div id="date" class="t" style="left:1001.60px;top:45.09px;font-size:16.9px;font-weight:400;color:#3b3e5c;transform:scaleX(0.9923);">1 dic 2020 - 16 jun 2021</div>
<div id="sec1" class="t" style="left:837.00px;top:90.01px;font-size:26.5px;font-weight:400;color:#3f4062;transform:scaleX(0.9017);-webkit-text-stroke:0.5px #d5d6db;">Secretaría</div>
<div id="sec2" class="t" style="left:764.99px;top:120.41px;font-size:26.5px;font-weight:400;color:#3f4062;transform:scaleX(0.9196);-webkit-text-stroke:0.5px #d5d6db;">de Salud Pública</div>
<div id="mun1" class="t" style="left:1034.19px;top:96.19px;font-size:16.4px;font-weight:400;color:#2c2d55;transform:scaleX(1.0685);-webkit-text-stroke:0.3px #2c2d55;">MUNICIPALIDAD DE</div>
<div id="mun2" class="t" style="left:1035.00px;top:114.59px;font-size:26.2px;font-weight:700;color:#23244f;transform:scaleX(0.9593);-webkit-text-stroke:0.6px #23244f;">CHASCOMÚS</div>
<div id="cl0" class="t" style="left:85.38px;top:184.01px;font-size:22.3px;font-weight:700;color:#2a2b55;transform:scaleX(0.9596);">Confirmados</div>
<div id="cn0" class="t" style="left:78.58px;top:206.96px;font-size:57.3px;font-weight:400;color:#23244f;transform:scaleX(0.9654);">4.820</div>
<div id="cl1" class="t" style="left:249.79px;top:184.13px;font-size:22.3px;font-weight:700;color:#2a2b55;transform:scaleX(0.9420);">Recuperados</div>
<div id="cn1" class="t" style="left:246.18px;top:206.96px;font-size:57.3px;font-weight:400;color:#23244f;transform:scaleX(0.9781);">4.428</div>
<div id="cl2" class="t" style="left:443.00px;top:184.01px;font-size:22.3px;font-weight:700;color:#2a2b55;transform:scaleX(0.9631);">Activos</div>
<div id="cn2" class="t" style="left:431.88px;top:206.96px;font-size:57.3px;font-weight:400;color:#23244f;transform:scaleX(0.9926);">317</div>
<div id="cl3" class="t" style="left:592.99px;top:184.01px;font-size:22.3px;font-weight:700;color:#2a2b55;transform:scaleX(0.9451);">Fallecidos</div>
<div id="cn3" class="t" style="left:609.80px;top:206.32px;font-size:57.3px;font-weight:400;color:#23244f;transform:scaleX(1.0060);">75</div>
<div id="cl4" class="t" style="left:753.98px;top:184.01px;font-size:22.3px;font-weight:700;color:#2a2b55;transform:scaleX(0.9652);">En estudio</div>
<div id="cn4" class="t" style="left:775.85px;top:206.60px;font-size:57.3px;font-weight:400;color:#23244f;transform:scaleX(0.9423);">21</div>
<div id="cl5" class="t" style="left:907.98px;top:184.01px;font-size:22.3px;font-weight:700;color:#2a2b55;transform:scaleX(0.9778);">Descartados</div>
<div id="cn5" class="t" style="left:902.94px;top:206.96px;font-size:57.3px;font-weight:400;color:#23244f;transform:scaleX(0.9869);">3.819</div>
<div id="cont1" class="t" style="left:1070.40px;top:188.50px;font-size:17.3px;font-weight:700;color:#2a2b55;transform:scaleX(0.9771);">CONTADORES</div>
<div id="cont2" class="t" style="left:1070.40px;top:210.70px;font-size:17.3px;font-weight:700;color:#2a2b55;transform:scaleX(0.9971);">ACTUALIZADOS</div>
<div id="cont3" class="t" style="left:1070.59px;top:233.10px;font-size:17.3px;font-weight:700;color:#2a2b55;transform:scaleX(0.9919);">EN TIEMPO REAL</div>
<div id="ct1" class="t" style="left:195.60px;top:282.12px;font-size:25px;font-weight:700;color:#23244f;transform:scaleX(0.9740);">Avance casos confirmados</div>
<div id="ct2" class="t" style="left:827.20px;top:283.21px;font-size:25px;font-weight:700;color:#23244f;transform:scaleX(0.9924);">Avance testeos</div>
<div id="lg1a" class="t" style="left:160.00px;top:577.02px;font-size:14.2px;font-weight:400;color:#3b3e5c;transform:scaleX(1.0333);">Casos confirmados en el día</div>
<div id="lg1b" class="t" style="left:406.99px;top:577.02px;font-size:14.2px;font-weight:400;color:#3b3e5c;transform:scaleX(1.0593);">Promedio últimos 7 días</div>
<div id="lg2a" class="t" style="left:795.00px;top:577.02px;font-size:14.2px;font-weight:400;color:#3b3e5c;transform:scaleX(1.0284);">Análisis realizados en el día</div>
<div id="lg2b" class="t" style="left:1037.00px;top:577.02px;font-size:14.2px;font-weight:400;color:#3b3e5c;transform:scaleX(1.0527);">Promedio últimos 7 días</div>
<div id="b1a" class="t" style="left:93.60px;top:617.60px;font-size:24.7px;font-weight:700;color:#23244f;transform:scaleX(0.9843);">Casos confirmados</div>
<div id="b1b" class="t" style="left:93.59px;top:642.25px;font-size:24.7px;font-weight:700;color:#23244f;transform:scaleX(1.0242);">según grupo etario</div>
<div id="b2a" class="t" style="left:483.60px;top:619.45px;font-size:24.7px;font-weight:700;color:#23244f;transform:scaleX(0.9871);">Casos confirmados según</div>
<div id="b2b" class="t" style="left:483.60px;top:644.25px;font-size:24.7px;font-weight:700;color:#23244f;transform:scaleX(0.9958);">clasificación epidemiológica</div>
<div id="b3a" class="t" style="left:932.39px;top:618.80px;font-size:24.7px;font-weight:700;color:#23244f;transform:scaleX(0.9852);">Casos confirmados</div>
<div id="b3b" class="t" style="left:932.40px;top:643.45px;font-size:24.7px;font-weight:700;color:#23244f;transform:scaleX(0.9825);">según sexo</div>
<div id="mil" class="t" style="left:1.98px;top:675.89px;font-size:11px;font-weight:400;color:#3b3e5c;transform:scaleX(1.0019);">5 mil</div>
<div id="p100" class="t" style="left:469.00px;top:675.34px;font-size:11px;font-weight:400;color:#3b3e5c;transform:scaleX(0.9286);">100%</div>
<div id="p75" class="t" style="left:469.50px;top:716.19px;font-size:11px;font-weight:400;color:#3b3e5c;transform:scaleX(0.9773);">75%</div>
<div id="p58" class="t" style="left:641.00px;top:690.56px;font-size:9.5px;font-weight:400;color:rgba(255,255,255,0.75);transform:scaleX(0.8909);">5,8%</div>
<div class="abs" style="left:1273px;top:0;width:7px;height:720px;background:#f0f0f0;"></div>
<div class="abs" style="left:1273px;top:0;width:7px;height:556.5px;background:#adadad;border-radius:0 0 4px 4px;"></div>
<div class="abs" style="left:0;top:694.7px;width:1280px;height:25.3px;background:linear-gradient(rgba(172,172,172,0.5),rgba(0,0,0,0.5));"></div>
<div id="priv" class="t" style="left:1064px;top:703.27px;font-size:11.5px;color:rgba(255,255,255,0.88);transform:scaleX(0.9167)">Privacidad</div>
<div class="abs" style="left:1122px;top:700.5px;width:1.1px;height:15px;background:rgba(255,255,255,0.75);"></div>
<div id="gds" class="t" style="left:1130.6px;top:701.30px;font-size:13.7px;font-weight:700;color:#fff;transform:scaleX(0.9094)">Google Data Studio</div>
<div class="abs" style="left:1255px;top:700.5px;width:1.2px;height:15px;background:rgba(255,255,255,0.75);"></div>
<svg class="abs" style="left:0;top:0" width="1280" height="720" viewBox="0 0 1280 720"><path d="M1262.1 705.25H1266.15V701.3M1271.1 701.3V705.25H1275M1262.1 710.65H1266.15V714.2M1271.1 714.2V710.65H1275" stroke="#fff" stroke-width="1.8" fill="none"/></svg>
</body></html>
